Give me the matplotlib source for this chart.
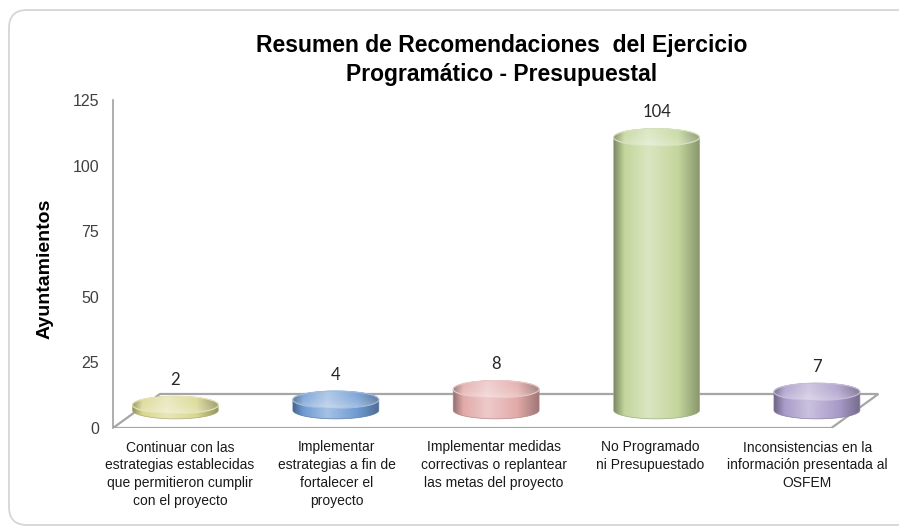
import numpy as np
import matplotlib
matplotlib.use("Agg")
import matplotlib.pyplot as plt
from matplotlib.patches import Polygon, Ellipse, PathPatch, FancyBboxPatch
from matplotlib.path import Path
from matplotlib.transforms import IdentityTransform
from matplotlib.colors import to_rgb

# Data
categories = [
    "Continuar con las\nestrategias establecidas\nque permitieron cumplir\ncon el proyecto",
    "Implementar\nestrategias a fin de\nfortalecer el\nproyecto",
    "Implementar medidas\ncorrectivas o replantear\nlas metas del proyecto",
    "No Programado\nni Presupuestado",
    "Inconsistencias en la\ninformación presentada al\nOSFEM",
]
values = [2, 4, 8, 104, 7]
bar_colors = ["#d9d78f", "#6f9bd3", "#e2aaa9", "#c3d69b", "#a99bc9"]
y_ticks = [0, 25, 50, 75, 100, 125]

plt.rcParams["font.family"] = ["Liberation Sans", "DejaVu Sans"]

fig = plt.figure(figsize=(8.99, 5.29), dpi=100)
fig.patch.set_facecolor("white")

# rounded frame around the chart
frame = FancyBboxPatch((9, 4), 905, 515, boxstyle="round,pad=0,rounding_size=18",
                       transform=IdentityTransform(), fc="white", ec="#d6d6d6",
                       lw=1.3, zorder=-10)
fig.add_artist(frame)

ax = fig.add_axes([113 / 899, 1 - 428 / 529, (880 - 113) / 899, 328 / 529])
ax.set_facecolor("none")

# fake 3D floor
depth_x, depth_y = 0.293, 12.96
floor = Polygon([(-0.243, 0), (4.237, 0), (4.237 + depth_x, depth_y), (-0.243 + depth_x, depth_y)],
                closed=True, fc="white", ec="#a6a6a6", lw=1.6, zorder=1)
ax.add_patch(floor)


def mix(c, other, t):
    c = np.array(to_rgb(c))
    return c + (np.array(other) - c) * t


def shade_row(color, n=200):
    u = np.linspace(0, 1, n)
    stops = [0, 0.12, 0.4, 0.75, 1]
    w = np.interp(u, stops, [-0.35, 0.0, 0.38, 0.0, -0.3])
    rows = []
    for wi in w:
        rows.append(mix(color, (1, 1, 1), wi) if wi >= 0 else mix(color, (0, 0, 0), -wi))
    return np.array(rows)


half_w = 0.268
half_h = 3.3
cyl_dx, cyl_dy = depth_x / 2, depth_y / 2 + 0.3

for i, (v, col) in enumerate(zip(values, bar_colors)):
    cx = i + cyl_dx
    base = cyl_dy
    top = cyl_dy + v
    z = 3 + i * 0.1

    th_low = np.linspace(np.pi, 2 * np.pi, 60)
    th_up = np.linspace(0, np.pi, 60)
    verts = [(cx - half_w, top), (cx - half_w, base)]
    verts += [(cx + half_w * np.cos(t), base + half_h * np.sin(t)) for t in th_low]
    verts += [(cx + half_w, top)]
    verts += [(cx + half_w * np.cos(t), top + half_h * np.sin(t)) for t in th_up]
    verts += [(cx - half_w, top)]
    codes = [Path.MOVETO] + [Path.LINETO] * (len(verts) - 2) + [Path.CLOSEPOLY]
    body = PathPatch(Path(verts, codes), fc="none", ec=mix(col, (0, 0, 0), 0.2), lw=0.5, zorder=z + 0.02)
    ax.add_patch(body)
    row = shade_row(col)
    img = np.repeat(row[np.newaxis, :, :], 2, axis=0)
    im = ax.imshow(img, extent=[cx - half_w, cx + half_w, base - half_h, top + half_h],
                   aspect="auto", origin="lower", interpolation="bilinear", zorder=z)
    im.set_clip_path(body)

    # top cap
    cap = Ellipse((cx, top), 2 * half_w, 2 * half_h, fc="none",
                  ec=mix(col, (1, 1, 1), 0.35), lw=0.8, zorder=z + 0.05)
    ax.add_patch(cap)
    ny = 40
    tv = np.linspace(0, 1, ny)
    cap_img = np.zeros((ny, 200, 3))
    crow = shade_row(mix(col, (1, 1, 1), 0.12))
    for k, t in enumerate(tv):
        lift = 0.3 * (1 - t) ** 2
        cap_img[k] = crow + (1 - crow) * lift
    cim = ax.imshow(np.clip(cap_img, 0, 1), extent=[cx - half_w, cx + half_w, top - half_h, top + half_h],
                    aspect="auto", origin="lower", interpolation="bilinear", zorder=z + 0.04)
    cim.set_clip_path(cap)

    ax.annotate(str(v), (cx, top + half_h), xytext=(0, 6), textcoords="offset points",
                ha="center", va="bottom", fontsize=12, color="#262626",
                family=["Lato", "Open Sans", "DejaVu Sans"], zorder=10)

ax.set_xlim(-0.243, 4.54)
ax.set_ylim(0, 125)

for s in ["top", "right", "bottom"]:
    ax.spines[s].set_visible(False)
ax.spines["left"].set_color("#a0a0a0")
ax.spines["left"].set_linewidth(1.2)

ax.set_yticks(y_ticks)
ax.set_yticklabels([str(t) for t in y_ticks], fontsize=11.5, color="#404040")
ax.tick_params(axis="y", length=0, pad=10)

ax.set_xticks([0.175 + 0.978 * i for i in range(len(categories))])
ax.set_xticklabels(categories, fontsize=10, color="#1a1a1a",
                   linespacing=1.35, va="top")
ax.tick_params(axis="x", length=0, pad=9)

fig.text(502 / 899, 1 - 46 / 529, "Resumen de Recomendaciones  del Ejercicio",
         ha="center", va="center", fontsize=16.5, fontweight="bold", color="black")
fig.text(502 / 899, 1 - 74 / 529, "Programático - Presupuestal",
         ha="center", va="center", fontsize=16.5, fontweight="bold", color="black")
fig.text(45 / 899, 1 - 269 / 529, "Ayuntamientos", rotation=90, ha="center", va="center",
         fontsize=14, fontweight="bold", color="black")

fig.savefig("out.png", dpi=100, facecolor="white")
